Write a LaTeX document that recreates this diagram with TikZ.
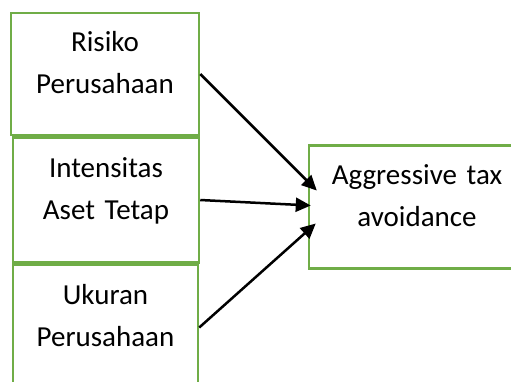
\documentclass[tikz,border=0pt]{standalone}
\usepackage{fontspec}
\setmainfont{Carlito}
\usetikzlibrary{arrows.meta, positioning}
\definecolor{boxgreen}{HTML}{70AD47}
\tikzset{
  box/.style = {draw=boxgreen, line width=2.5pt, fill=white,
                minimum width=188pt, minimum height=122pt,
                text width=180pt, align=center, inner sep=0pt,
                text height=20pt, text depth=66pt,
                font=\fontsize{29}{42}\selectfont},
  arr/.style = {-{Triangle[length=15pt, width=14pt]}, line width=2.5pt, black},
}

\begin{document}
\begin{tikzpicture}
  \clip (0,0) rectangle (511pt,-381pt);

  % --- left column: the three factors ---
  \node[box] (risiko) at (105pt,-74pt) {Risiko\\Perusahaan};
  \node[box, minimum width=186pt, minimum height=125pt,
        below=0pt of risiko, xshift=1pt] (aset) {Intensitas\\Aset Tetap};
  \node[box, minimum width=185pt, minimum height=125pt,
        below=0pt of aset, xshift=-0.5pt] (ukuran) {Ukuran\\Perusahaan};

  % --- right: outcome ---
  \node[box, minimum width=216pt, minimum height=123pt,
        right=107.5pt of aset, yshift=-7pt] (ata) {Aggressive tax\\avoidance};

  % --- arrows ---
  \draw[arr] (risiko.east) -- ([shift={(9pt,16.5pt)}]ata.west);
  \draw[arr] (aset.east)   -- ([shift={(3pt,1.5pt)}]ata.west);
  \draw[arr] (ukuran.east) -- ([shift={(8pt,-16.5pt)}]ata.west);

\end{tikzpicture}
\end{document}
